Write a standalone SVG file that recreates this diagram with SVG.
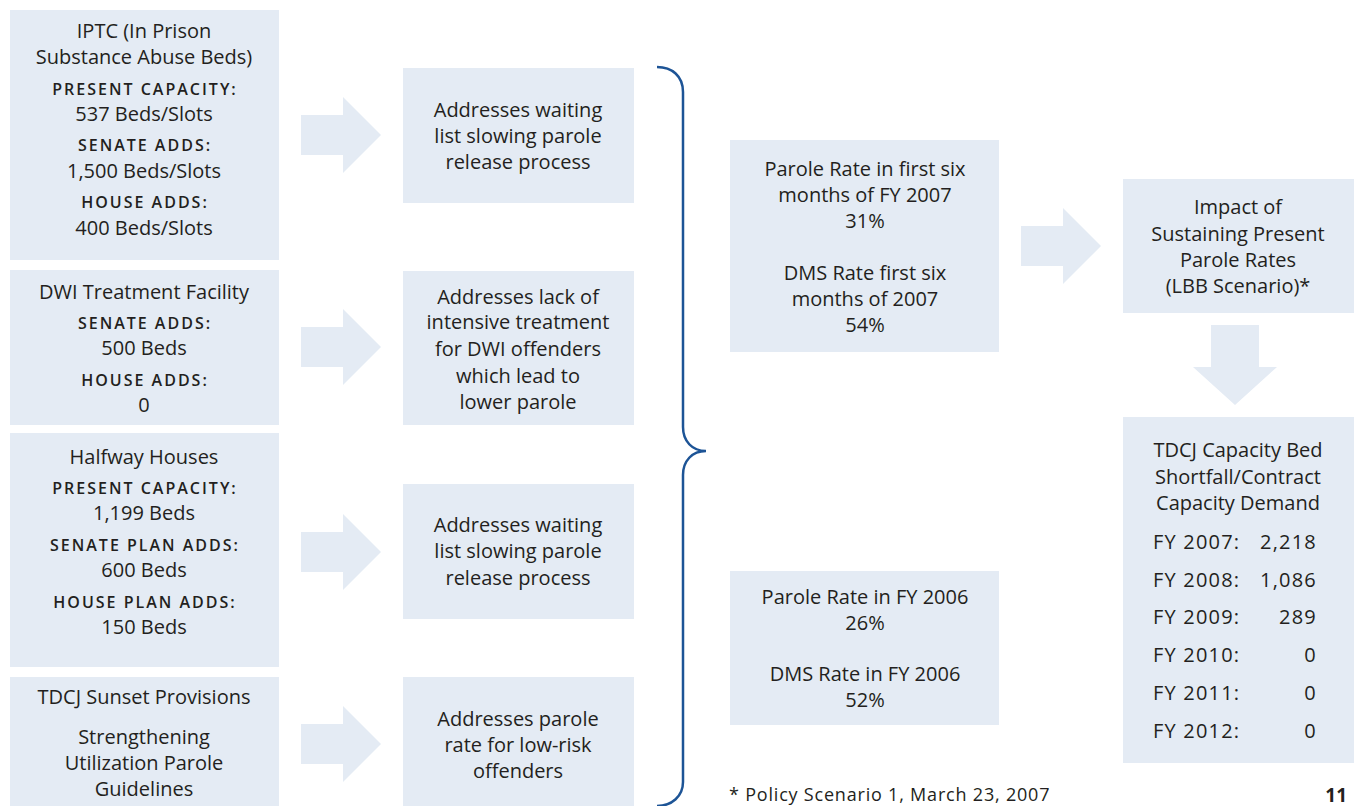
<svg xmlns="http://www.w3.org/2000/svg" width="1355" height="806" viewBox="0 0 1355 806">
<defs>
<style>
.box{fill:#e4ebf4}
.arr{fill:#e4ebf4}
text{font-family:"Open Sans","Noto Sans",sans-serif;font-size:20px;fill:#231f20;text-anchor:middle}
.sc{font-size:16px;font-weight:600;letter-spacing:2px}
.l{text-anchor:start}
.r{text-anchor:end}
.row{letter-spacing:1.2px}
.brace{fill:none;stroke:#1d5496;stroke-width:2.5}
</style>
<path id="ha" d="M0,-20 H42 V-38 L80,0 L42,38 V20 H0 Z"/>
</defs>
<rect width="1355" height="806" fill="#fff"/>
<g id="connectors">
<use href="#ha" class="arr" transform="translate(301,135)"/>
<use href="#ha" class="arr" transform="translate(301,347)"/>
<use href="#ha" class="arr" transform="translate(301,552)"/>
<use href="#ha" class="arr" transform="translate(301,744)"/>
<use href="#ha" class="arr" transform="translate(1021,246)"/>
<path class="arr" d="M1211,325 H1259 V367 H1277 L1235,405 L1193,367 H1211 Z"/>
<path class="brace" d="M657,67 C672,67 683,76 683,92 V427 C683,441 692,451 706,451 C692,451 683,461 683,475 V782 C683,796 672,806 657,806"/>
</g>
<g id="n1">
<rect class="box" x="10" y="10" width="269" height="250"/>
<text x="144" y="38">IPTC (In Prison</text>
<text x="144" y="64">Substance Abuse Beds)</text>
<text class="sc" x="145" y="95">PRESENT CAPACITY:</text>
<text x="144" y="121">537 Beds/Slots</text>
<text class="sc" x="145" y="151">SENATE ADDS:</text>
<text x="144" y="178">1,500 Beds/Slots</text>
<text class="sc" x="145" y="208">HOUSE ADDS:</text>
<text x="144" y="235">400 Beds/Slots</text>
</g>
<g id="n2">
<rect class="box" x="10" y="270" width="269" height="155"/>
<text x="144" y="299">DWI Treatment Facility</text>
<text class="sc" x="145" y="329">SENATE ADDS:</text>
<text x="144" y="355">500 Beds</text>
<text class="sc" x="145" y="386">HOUSE ADDS:</text>
<text x="144" y="412">0</text>
</g>
<g id="n3">
<rect class="box" x="10" y="433" width="269" height="234"/>
<text x="144" y="464">Halfway Houses</text>
<text class="sc" x="145" y="494">PRESENT CAPACITY:</text>
<text x="144" y="520">1,199 Beds</text>
<text class="sc" x="145" y="551">SENATE PLAN ADDS:</text>
<text x="144" y="577">600 Beds</text>
<text class="sc" x="145" y="608">HOUSE PLAN ADDS:</text>
<text x="144" y="634">150 Beds</text>
</g>
<g id="n4">
<rect class="box" x="10" y="677" width="269" height="129"/>
<text x="144" y="704">TDCJ Sunset Provisions</text>
<text x="144" y="744">Strengthening</text>
<text x="144" y="770">Utilization Parole</text>
<text x="144" y="796">Guidelines</text>
</g>
<g id="m1">
<rect class="box" x="403" y="68" width="231" height="135"/>
<text x="518" y="117">Addresses waiting</text>
<text x="518" y="143">list slowing parole</text>
<text x="518" y="169">release process</text>
</g>
<g id="m2">
<rect class="box" x="403" y="271" width="231" height="154"/>
<text x="518" y="304">Addresses lack of</text>
<text x="518" y="329">intensive treatment</text>
<text x="518" y="356">for DWI offenders</text>
<text x="518" y="383">which lead to</text>
<text x="518" y="409">lower parole</text>
</g>
<g id="m3">
<rect class="box" x="403" y="484" width="231" height="135"/>
<text x="518" y="532">Addresses waiting</text>
<text x="518" y="558">list slowing parole</text>
<text x="518" y="585">release process</text>
</g>
<g id="m4">
<rect class="box" x="403" y="677" width="231" height="129"/>
<text x="518" y="726">Addresses parole</text>
<text x="518" y="752">rate for low-risk</text>
<text x="518" y="778">offenders</text>
</g>
<g id="r1">
<rect class="box" x="730" y="140" width="269" height="212"/>
<text x="865" y="176">Parole Rate in first six</text>
<text x="865" y="202">months of FY 2007</text>
<text x="865" y="228">31%</text>
<text x="865" y="280">DMS Rate first six</text>
<text x="865" y="306">months of 2007</text>
<text x="865" y="332">54%</text>
</g>
<g id="r2">
<rect class="box" x="730" y="571" width="269" height="154"/>
<text x="865" y="604">Parole Rate in FY 2006</text>
<text x="865" y="630">26%</text>
<text x="865" y="681">DMS Rate in FY 2006</text>
<text x="865" y="707">52%</text>
</g>
<g id="impact">
<rect class="box" x="1123" y="179" width="231" height="134"/>
<text x="1238" y="214">Impact of</text>
<text x="1238" y="241">Sustaining Present</text>
<text x="1238" y="267">Parole Rates</text>
<text x="1238" y="293">(LBB Scenario)*</text>
</g>
<g id="tdcj">
<rect class="box" x="1123" y="417" width="231" height="346"/>
<text x="1238" y="457">TDCJ Capacity Bed</text>
<text x="1238" y="484">Shortfall/Contract</text>
<text x="1238" y="510">Capacity Demand</text>
<text class="l row" x="1153" y="549">FY 2007:</text><text class="r row" x="1317" y="549">2,218</text>
<text class="l row" x="1153" y="587">FY 2008:</text><text class="r row" x="1317" y="587">1,086</text>
<text class="l row" x="1153" y="624">FY 2009:</text><text class="r row" x="1317" y="624">289</text>
<text class="l row" x="1153" y="662">FY 2010:</text><text class="r row" x="1317" y="662">0</text>
<text class="l row" x="1153" y="700">FY 2011:</text><text class="r row" x="1317" y="700">0</text>
<text class="l row" x="1153" y="738">FY 2012:</text><text class="r row" x="1317" y="738">0</text>
</g>
<g id="footer">
<text class="l" x="729" y="801" style="font-size:18px;letter-spacing:0.8px">* Policy Scenario 1, March 23, 2007</text>
<text class="r" x="1347" y="802" style="font-size:19px;font-weight:700">11</text>
</g>
</svg>
